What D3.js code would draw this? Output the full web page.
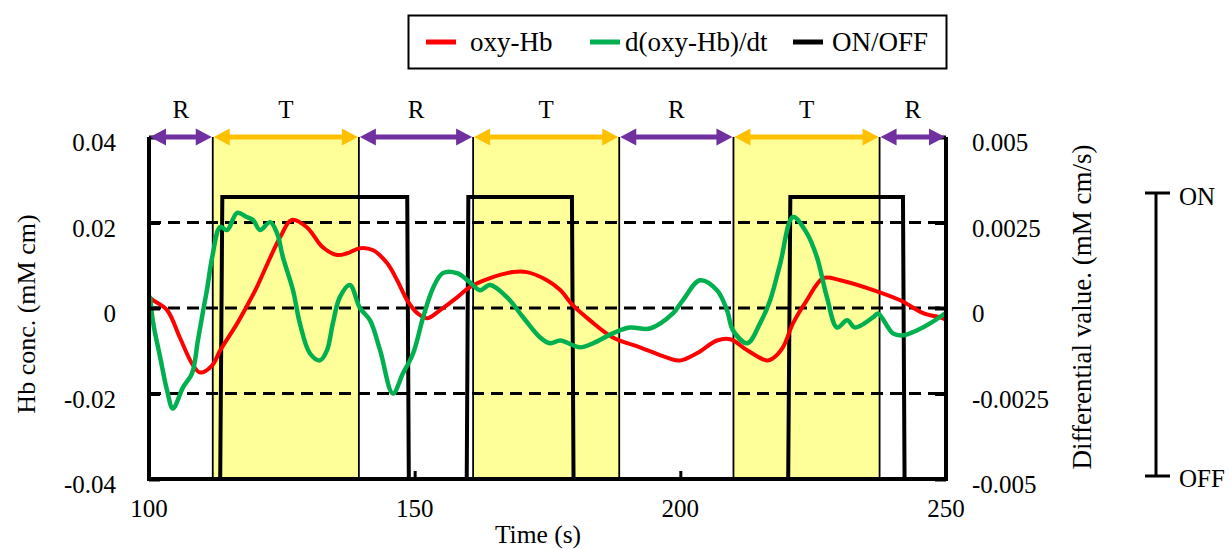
<!DOCTYPE html>
<html>
<head>
<meta charset="utf-8">
<script src="https://cdn.jsdelivr.net/npm/d3@7"></script>
<style>
  html, body { margin: 0; padding: 0; background: #fff; }
  svg, svg text { font-family: "Liberation Serif", "Times New Roman", Times, serif; }
</style>
</head>
<body>
<svg id="chart" width="1230" height="549" font-family="Liberation Serif, Times New Roman, serif"></svg>
<script>
// ---------------- data ----------------
const oxyT = [100, 100.8, 103.4, 105.8, 108.1, 109.6, 111.9, 113.4, 116.6, 119.0, 120.3, 124.7, 126.9, 129.7,
  132.7, 135.4, 137.3, 139.7, 142.2, 144.8, 146.7, 148.6, 150.5, 152.3, 154.8, 158.0, 160.4, 164.2, 168.5,
  171.1, 174.9, 177.4, 179.8, 183.0, 187.3, 192.4, 197.5, 199.9, 203.1, 206.9, 209.4, 212.6, 216.3, 217.4,
  219.3, 221.2, 223.8, 226.9, 230.1, 236.3, 241.4, 245.7, 249.4, 250];
const oxyV = [0.0025, 0.0018, -0.0005, -0.0069, -0.013, -0.0151, -0.0134, -0.0099, -0.0036, 0.0018, 0.0049,
  0.0166, 0.0206, 0.0189, 0.0142, 0.0124, 0.0128, 0.014, 0.0135, 0.0105, 0.0065, 0.0018, -0.0012, -0.0024,
  -0.0005, 0.0025, 0.0049, 0.007, 0.0084, 0.0084, 0.0065, 0.0042, 0.0006, -0.0029, -0.0069, -0.0092, -0.0116,
  -0.0123, -0.0106, -0.0076, -0.0073, -0.0099, -0.0123, -0.0118, -0.0092, -0.0036, 0.0018, 0.007, 0.0065,
  0.0042, 0.0018, -0.0012, -0.0024, -0.0029];

const dT = [100.2, 100.8, 102.1, 103.4, 104.5, 106.4, 108.1, 109.2, 110.2, 110.9, 111.9, 113.4, 114.7, 116.6,
  118.4, 119.6, 120.9, 122.8, 124.1, 125.2, 127.1, 128.4, 130.3, 132.2, 133.5, 134.6, 135.9, 137.8, 139.7,
  141.6, 143.5, 145.9, 147.8, 149.7, 151.6, 153.5, 155.3, 158.0, 160.4, 162.3, 164.2, 167.4, 170.4, 173.6,
  175.5, 177.4, 181.1, 183.6, 187.3, 190.5, 194.3, 198.6, 200.5, 203.7, 206.9, 208.8, 209.9, 212.6, 215.0,
  216.9, 218.8, 221.2, 223.8, 225.7, 227.6, 229.5, 231.4, 232.9, 236.3, 237.2, 240.0, 241.9, 244.6, 247.0, 249.8];
const dV = [0.00031, -0.00045, -0.00144, -0.00241, -0.00294, -0.00232, -0.00191, -0.00095, -0.00007, 0.00052,
  0.00149, 0.00237, 0.00228, 0.00278, 0.00266, 0.00257, 0.00228, 0.00251, 0.00219, 0.00149, 0.00052, -0.00045,
  -0.00133, -0.00153, -0.00124, -0.00045, 0.00031, 0.00067, 0.0, -0.00036, -0.00124, -0.0025, -0.00191,
  -0.00133, -0.00027, 0.0006, 0.00102, 0.00102, 0.00075, 0.00052, 0.00067, 0.00031, -0.00027, -0.00086,
  -0.00103, -0.00095, -0.00115, -0.00103, -0.00074, -0.00057, -0.0006, -0.00016, 0.00023, 0.00081, 0.00052,
  -0.00007, -0.00065, -0.00103, -0.00045, 0.00023, 0.0013, 0.00266, 0.00219, 0.00149, 0.00031, -0.00057,
  -0.00036, -0.00057, -0.00027, -0.00016, -0.00074, -0.0008, -0.00065, -0.00045, -0.00016];

const onoffT = [100, 113.4, 113.8, 148.6, 148.9, 159.8, 160.1, 179.6, 179.9, 220.3, 220.7, 241.9, 242.2, 250];
const onoffV = [0, 0, 1, 1, 0, 0, 1, 1, 0, 0, 1, 1, 0, 0];

const phaseLabels = ["R", "T", "R", "T", "R", "T", "R"];
const phaseBounds = [100, 112, 139.5, 161, 188.5, 210, 237.5, 250];

const xTicks = [100, 150, 200, 250];
const leftTicks = [-0.04, -0.02, 0, 0.02, 0.04];
const leftTickLabels = ["-0.04", "-0.02", "0", "0.02", "0.04"];
const rightTicks = [-0.005, -0.0025, 0, 0.0025, 0.005];
const rightTickLabels = ["-0.005", "-0.0025", "0", "0.0025", "0.005"];
const gridValues = [-0.02, 0, 0.02];

const legendLabels = ["oxy-Hb", "d(oxy-Hb)/dt", "ON/OFF"];
const legendColors = ["#ff0000", "#00b050", "#000000"];

// ---------------- layout ----------------
const FONT = "Liberation Serif, Times New Roman, serif";
const svg = d3.select("#chart");
const L = 149, R = 946, T = 137, B = 479;
const x = d3.scaleLinear().domain([100, 250]).range([L, R]);
const yL = d3.scaleLinear().domain([-0.04, 0.04]).range([B, T]);
const yR = d3.scaleLinear().domain([-0.005, 0.005]).range([B, T]);
const yOn = d3.scaleLinear().domain([0, 1]).range([B, 197]);
const FS = 25;

function txt(sel) { return sel.attr("font-family", FONT).attr("fill", "#000"); }

// yellow T shading
const tIdx = phaseLabels.map((d, i) => i).filter(i => phaseLabels[i] === "T");
svg.append("g").selectAll("rect").data(tIdx).join("rect")
  .attr("x", i => x(phaseBounds[i]))
  .attr("width", i => x(phaseBounds[i + 1]) - x(phaseBounds[i]))
  .attr("y", T).attr("height", B - T)
  .attr("fill", "#ffff99");

// thin phase boundaries
svg.append("g").selectAll("line").data(phaseBounds.slice(1, -1)).join("line")
  .attr("x1", d => x(d)).attr("x2", d => x(d))
  .attr("y1", T).attr("y2", B)
  .attr("stroke", "#000").attr("stroke-width", 1.8);

// dashed gridlines
svg.append("g").selectAll("line").data(gridValues).join("line")
  .attr("x1", L).attr("x2", R)
  .attr("y1", d => yL(d)).attr("y2", d => yL(d))
  .attr("stroke", "#000").attr("stroke-width", 3.2)
  .attr("stroke-dasharray", "12,7");

// ON/OFF signal
const onData = onoffT.map((t, i) => [t, onoffV[i]]);
svg.append("path").datum(onData)
  .attr("d", d3.line().x(d => x(d[0])).y(d => yOn(d[1])))
  .attr("fill", "none").attr("stroke", "#000").attr("stroke-width", 4)
  .attr("stroke-linejoin", "miter");

// red oxy-Hb
const oxyData = oxyT.map((t, i) => [t, oxyV[i]]);
svg.append("path").datum(oxyData)
  .attr("d", d3.line().curve(d3.curveCatmullRom.alpha(0.5)).x(d => x(d[0])).y(d => yL(d[1])))
  .attr("fill", "none").attr("stroke", "#ff0000").attr("stroke-width", 4)
  .attr("stroke-linejoin", "round").attr("stroke-linecap", "round");

// green derivative
const dData = dT.map((t, i) => [t, dV[i]]);
svg.append("path").datum(dData)
  .attr("d", d3.line().curve(d3.curveCatmullRom.alpha(0.5)).x(d => x(d[0])).y(d => yR(d[1])))
  .attr("fill", "none").attr("stroke", "#00b050").attr("stroke-width", 4.5)
  .attr("stroke-linejoin", "round").attr("stroke-linecap", "round");

// axes frame (left, right, bottom)
const frame = svg.append("g").attr("stroke", "#000").attr("stroke-width", 4).attr("fill", "none");
frame.append("line").attr("x1", L).attr("x2", L).attr("y1", T).attr("y2", B + 2);
frame.append("line").attr("x1", R).attr("x2", R).attr("y1", T).attr("y2", B + 2);
frame.append("line").attr("x1", L - 2).attr("x2", R + 2).attr("y1", B).attr("y2", B);

// left axis ticks + labels
const gl = svg.append("g").attr("transform", `translate(${L},0)`)
  .call(d3.axisRight(yL).tickValues(leftTicks).tickSize(11).tickFormat(""));
gl.select(".domain").remove();
gl.selectAll(".tick line").attr("stroke-width", 4);
svg.append("g").selectAll("text").data(leftTicks).join("text")
  .call(txt)
  .attr("x", 116).attr("y", d => yL(d) + 14)
  .attr("text-anchor", "end").attr("font-size", FS)
  .text((d, i) => leftTickLabels[i]);

// right axis ticks + labels
const gr = svg.append("g").attr("transform", `translate(${R},0)`)
  .call(d3.axisLeft(yR).tickValues(rightTicks).tickSize(11).tickFormat(""));
gr.select(".domain").remove();
gr.selectAll(".tick line").attr("stroke-width", 4);
svg.append("g").selectAll("text").data(rightTicks).join("text")
  .call(txt)
  .attr("x", 972).attr("y", d => yR(d) + 14)
  .attr("text-anchor", "start").attr("font-size", FS)
  .text((d, i) => rightTickLabels[i]);

// bottom axis ticks + labels
const gb = svg.append("g").attr("transform", `translate(0,${B})`)
  .call(d3.axisTop(x).tickValues(xTicks).tickSize(8).tickFormat(""));
gb.select(".domain").remove();
gb.selectAll(".tick line").attr("stroke-width", 3);
svg.append("g").selectAll("text").data(xTicks).join("text")
  .call(txt)
  .attr("x", d => x(d)).attr("y", 517)
  .attr("text-anchor", "middle").attr("font-size", FS)
  .text(d => d);

// axis titles
svg.append("text").call(txt).attr("x", 538).attr("y", 543).attr("text-anchor", "middle")
  .attr("font-size", 25.5).text("Time (s)");
svg.append("text").call(txt).attr("transform", "translate(35,314) rotate(-90)").attr("text-anchor", "middle")
  .attr("font-size", 26).text("Hb conc. (mM cm)");
svg.append("text").call(txt).attr("transform", "translate(1091,307) rotate(-90)").attr("text-anchor", "middle")
  .attr("font-size", 27).text("Differential value. (mM cm/s)");

// phase arrows and labels
const arrowY = T;
const phases = phaseLabels.map((lab, i) => ({ lab, a: phaseBounds[i], b: phaseBounds[i + 1] }));
const ag = svg.append("g");
phases.forEach(p => {
  const col = p.lab === "T" ? "#ffc000" : "#7030a0";
  const x1 = x(p.a) + 1, x2 = x(p.b) - 1, hl = 16, hw = 8.5;
  ag.append("line").attr("x1", x1 + hl - 2).attr("x2", x2 - hl + 2).attr("y1", arrowY).attr("y2", arrowY)
    .attr("stroke", col).attr("stroke-width", 5);
  ag.append("path").attr("d", `M${x1},${arrowY} L${x1 + hl},${arrowY - hw} L${x1 + hl},${arrowY + hw} Z`).attr("fill", col);
  ag.append("path").attr("d", `M${x2},${arrowY} L${x2 - hl},${arrowY - hw} L${x2 - hl},${arrowY + hw} Z`).attr("fill", col);
  ag.append("text").call(txt).attr("x", (x(p.a) + x(p.b)) / 2).attr("y", 118)
    .attr("text-anchor", "middle").attr("font-size", FS).text(p.lab);
});

// ON/OFF scale bracket on the right
const br = svg.append("g").attr("stroke", "#000").attr("stroke-width", 3);
br.append("line").attr("x1", 1156).attr("x2", 1156).attr("y1", 193).attr("y2", 476);
br.append("line").attr("x1", 1145).attr("x2", 1170).attr("y1", 193).attr("y2", 193);
br.append("line").attr("x1", 1145).attr("x2", 1170).attr("y1", 476).attr("y2", 476);
svg.append("text").call(txt).attr("x", 1179).attr("y", 205).attr("font-size", FS).text("ON");
svg.append("text").call(txt).attr("x", 1179).attr("y", 487).attr("font-size", FS).text("OFF");

// legend
svg.append("rect").attr("x", 408.5).attr("y", 15.5).attr("width", 538).attr("height", 53)
  .attr("fill", "#fff").attr("stroke", "#000").attr("stroke-width", 2);
const legX = [426, 590, 793];
const legTX = [470, 625, 832];
legendLabels.forEach((lab, i) => {
  svg.append("line").attr("x1", legX[i]).attr("x2", legX[i] + 30).attr("y1", 42).attr("y2", 42)
    .attr("stroke", legendColors[i]).attr("stroke-width", 5);
  svg.append("text").call(txt).attr("x", legTX[i]).attr("y", 51).attr("font-size", 27).text(lab);
});
</script>
</body>
</html>
